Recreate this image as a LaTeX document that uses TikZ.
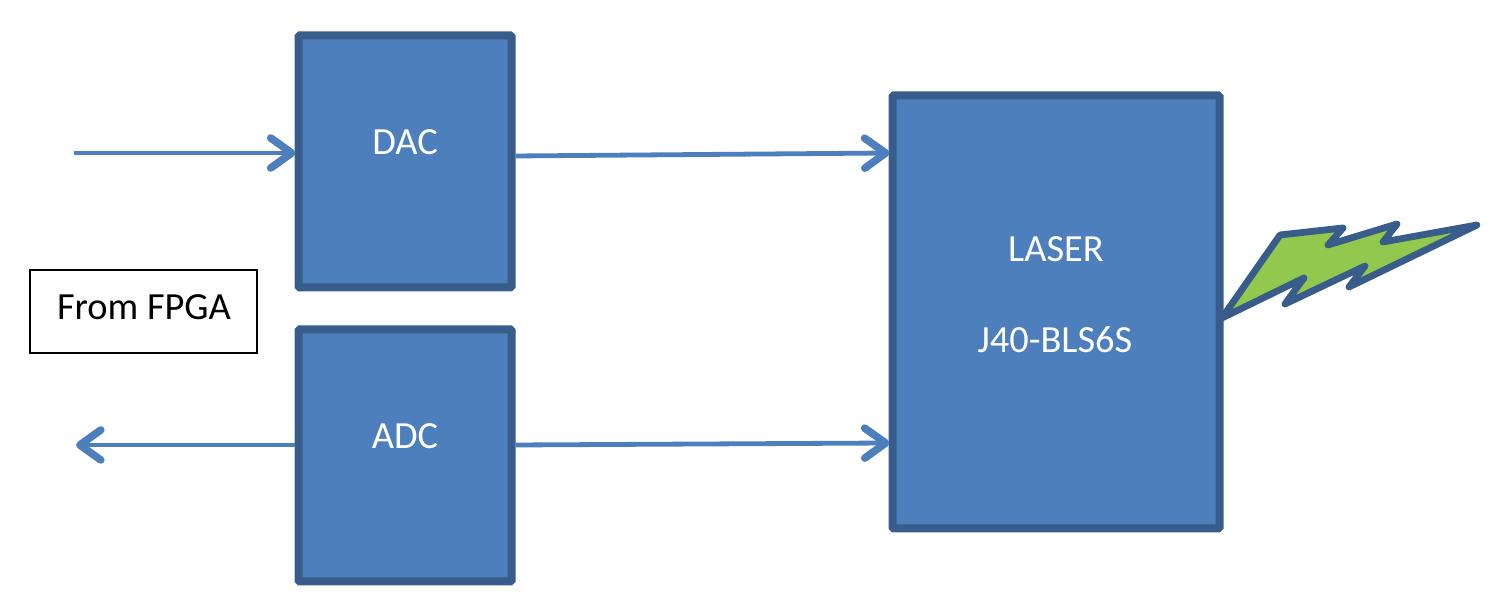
\documentclass[tikz,border=0pt]{standalone}
\usepackage{fontspec}
\setmainfont{Carlito}
\usetikzlibrary{arrows.meta,calc}
\definecolor{boxfill}{HTML}{4D7FBC}
\definecolor{boxline}{HTML}{385D8A}
\definecolor{boltfill}{HTML}{92C84E}
\tikzset{
  blockbox/.style={draw=boxline,fill=boxfill,line width=4pt,minimum width=106.5pt,minimum height=126pt,inner sep=0pt,rounded corners=0.6pt},
  whitelabel/.style={text=white,font=\fontsize{19.2}{22}\selectfont,inner sep=0pt},
  flow/.style={draw=boxfill,line width=2.4pt,shorten >=-0.5pt,-{Straight Barb[length=10.5pt,width=15pt,line width=3.8pt,round]}},
}
\begin{document}
\begin{tikzpicture}[x=0.5pt,y=-0.5pt]
\useasboundingbox (0,0) rectangle (1500,613);
\fill[white] (0,0) rectangle (1500,613);
% boxes
\node[blockbox] (DAC) at (405,161.5) {};
\node[blockbox] (ADC) at (405,455.5) {};
\node[blockbox,minimum width=163.5pt,minimum height=216.5pt] (LASER) at (1056,312) {};
\node[draw=black,line width=1pt,minimum width=113.5pt,minimum height=41.5pt,inner sep=0pt] (FPGA) at (143,311.5) {};
% labels
\node[whitelabel] (dactext) at (405,142) {DAC};
\node[whitelabel] (adctext) at (405,436) {ADC};
\node[whitelabel] (lasertext) at (1056,249) {LASER};
\node[whitelabel] (parttext) at (1055,339.5) {J40-BLS6S};
\node[text=black,font=\fontsize{19.2}{22}\selectfont,inner sep=0pt] (fpgatext) at (144,307) {From FPGA};
% connectors
\coordinate (insrc) at (74,153);
\coordinate (outdst) at (77,445);
\draw[flow] (insrc) -- (insrc -| DAC.west);
\draw[flow] ($(DAC.east)+(0,-5.5)$) -- ($(LASER.west)+(0,-159)$);
\draw[flow] ($(ADC.east)+(0,-10.5)$) -- ($(LASER.west)+(0,131)$);
\draw[flow] ($(ADC.west)+(0,-10.5)$) -- (outdst);
% lightning bolt
\draw[draw=boxline,fill=boltfill,line width=3.4pt,line join=round,line cap=round]
  (1222,318) -- (1280,235) -- (1343,228) -- (1328,245) -- (1397,224) -- (1383,242)
  -- (1477,225) -- (1349,287) -- (1365,266) -- (1285,304) -- (1304,278) -- cycle;
\end{tikzpicture}
\end{document}
